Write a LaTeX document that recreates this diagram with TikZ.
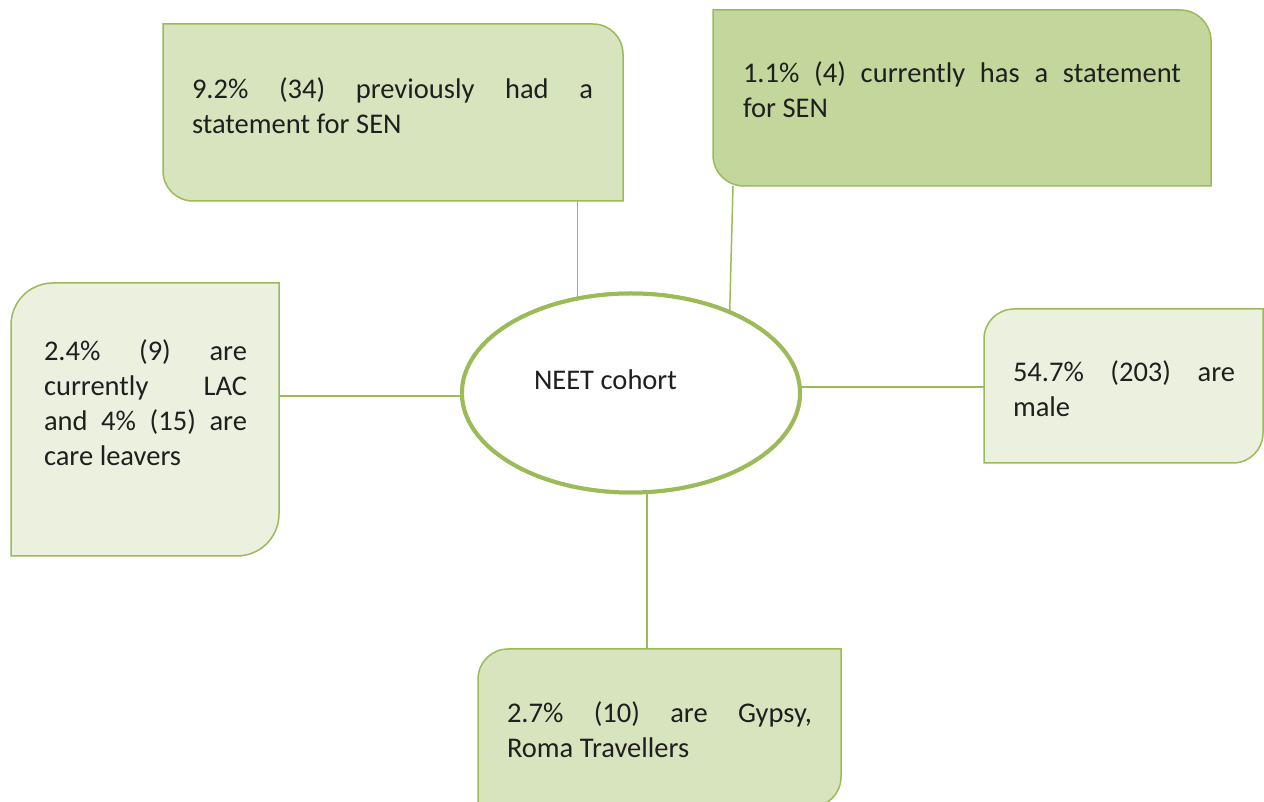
\documentclass[tikz,border=0pt]{standalone}
\usepackage{fontspec}
\setmainfont{Carlito}
\usetikzlibrary{shapes.geometric,calc}
\definecolor{olive}{HTML}{9BBB59}
\definecolor{fillDark}{HTML}{C3D69B}
\definecolor{fillMid}{HTML}{D7E4BD}
\definecolor{fillLight}{HTML}{EBF1DE}
\definecolor{ink}{HTML}{1F1F1F}
% justified line of a given width
\newcommand{\jline}[2]{\makebox[#1][s]{\spaceskip=.23em plus 1fil\relax #2}}
\newcommand{\tightsp}{\spaceskip=.23em\relax}
% rounded north-east and south-west corners
\newcommand{\bxNESW}[3]{\filldraw[boxline,fill=#3] (#1.north west) -- ([xshift=-#2pt]#1.north east) arc[start angle=90,end angle=0,radius=#2pt] -- (#1.south east) -- ([xshift=#2pt]#1.south west) arc[start angle=270,end angle=180,radius=#2pt] -- cycle;}
% rounded north-west and south-east corners
\newcommand{\bxNWSE}[3]{\filldraw[boxline,fill=#3] ([yshift=-#2pt]#1.north west) arc[start angle=180,end angle=90,radius=#2pt] -- (#1.north east) -- ([yshift=#2pt]#1.south east) arc[start angle=0,end angle=-90,radius=#2pt] -- (#1.south west) -- cycle;}
\tikzset{
  area/.style={rectangle,draw=none,inner sep=0pt,outer sep=0pt},
  boxline/.style={draw=olive,line width=1.5pt},
  conn/.style={draw=olive,line width=1.5pt},
  txt/.style={anchor=base west,inner sep=0pt,outer sep=0pt,align=left,text=ink,
    font=\fontsize{28.5}{35}\selectfont},
}
\begin{document}
\begin{tikzpicture}[x=1pt,y=1pt]
\useasboundingbox (0,0) rectangle (1264,801);
% box areas (named)
\node[area,minimum width=460pt,minimum height=177pt] (tl) at (393,688.5) {};
\node[area,minimum width=498pt,minimum height=176pt] (tr) at (962,703) {};
\node[area,minimum width=268pt,minimum height=273pt] (l) at (145,381.5) {};
\node[area,minimum width=279pt,minimum height=154pt] (r) at (1123.5,415) {};
\node[area,minimum width=363pt,minimum height=158pt] (b) at (659.5,73) {};
\node[ellipse,draw=olive,line width=4pt,fill=white,minimum width=338pt,minimum height=199pt,inner sep=0pt] (e) at (631,408) {};
% connectors
\draw[conn] (e.119) -- (e.119 |- tl.south);
\draw[conn] (e.40) -- ([xshift=20pt]tr.south west);
\draw[conn] (e.181) -- (e.181 -| l.east);
\draw[conn] (e.2) -- (e.2 -| r.west);
\draw[conn] (e.279) -- (e.279 |- b.north);
% boxes
\bxNESW{tl}{30}{fillMid}
\bxNESW{tr}{31}{fillDark}
\bxNWSE{l}{42}{fillLight}
\bxNWSE{r}{30}{fillLight}
\bxNWSE{b}{30}{fillMid}
\node[ellipse,draw=olive,line width=4pt,fill=white,minimum width=338pt,minimum height=199pt,inner sep=0pt] at (e) {};
% texts
\node[txt,text width=401pt] (ttl) at (192,702) {\tightsp\jline{401pt}{9.2\% (34) previously had a}\\statement for SEN};
\node[txt,text width=438pt] (ttr) at (743,718) {\tightsp\jline{438pt}{1.1\% (4) currently has a statement}\\for SEN};
\node[txt,text width=203pt] (tl2) at (44,440) {\tightsp\jline{203pt}{2.4\% (9) are}\\\jline{203pt}{currently LAC}\\\jline{203pt}{and 4\% (15) are}\\care leavers};
\node[txt,text width=222pt] (tr2) at (1013,419) {\tightsp\jline{222pt}{54.7\% (203) are}\\male};
\node[txt,text width=305pt] (tb) at (507,79) {\tightsp\jline{305pt}{2.7\% (10) are Gypsy,}\\Roma Travellers};
\node[txt] (te) at (534,411) {\tightsp NEET cohort};
\end{tikzpicture}
\end{document}
